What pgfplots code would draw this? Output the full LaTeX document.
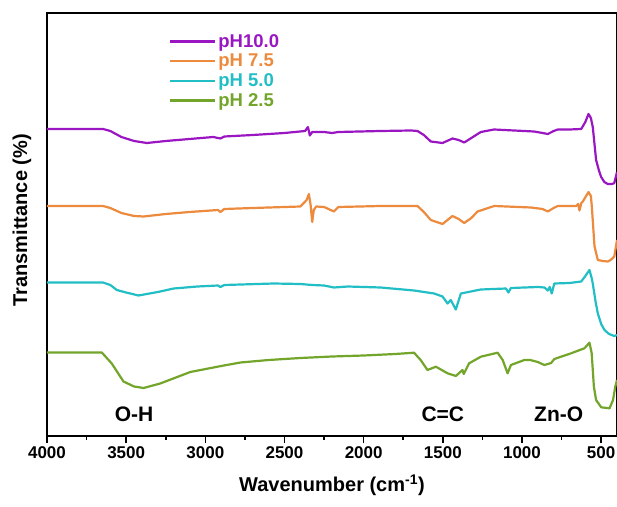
\documentclass[border=0pt]{standalone}
\usepackage{pgfplots}
\pgfplotsset{compat=1.18}
\usepackage{fontspec}
\setmainfont{Liberation Sans}
\usetikzlibrary{calc}
\definecolor{cpurple}{HTML}{9A16C2}
\definecolor{corange}{HTML}{EC8A3D}
\definecolor{ccyan}{HTML}{22BEC6}
\definecolor{cgreen}{HTML}{72A52A}

\begin{document}
\begin{tikzpicture}
\begin{axis}[
    name=ax,
    scale only axis,
    width=570pt, height=423pt,
    x dir=reverse,
    xmin=400, xmax=4000,
    ymin=0, ymax=423,
    xtick={4000,3500,...,500},
    minor x tick num=1,
    ytick=\empty,
    tick align=outside,
    xtick pos=bottom,
    major tick length=7pt,
    minor tick length=4pt,
    every tick/.style={black, line width=1.6pt},
    axis line style={line width=2pt},
    /pgf/number format/assume math mode=true,
    /pgf/number format/1000 sep={},
    xticklabel style={font=\fontsize{17}{19}\selectfont\bfseries},
    xlabel={Wavenumber (cm\textsuperscript{-1})},
    xlabel style={font=\fontsize{20}{22}\selectfont\bfseries, at={(axis description cs:0.5,-0.116)}, anchor=center},
    ylabel={Transmittance (\%)},
    ylabel style={font=\fontsize{20}{22}\selectfont\bfseries, at={(axis description cs:-0.044,0.51)}, anchor=center},
    every axis plot/.append style={line width=2.2pt, line join=round},
    legend style={draw=none, fill=none, at={(axis description cs:0.214,0.955)}, anchor=north west,
        font=\fontsize{18.5}{20}\selectfont\bfseries, row sep=1.3pt, inner sep=0pt},
    legend cell align=left,
    legend image code/.code={\draw[#1, line width=2.2pt] (0pt,0pt) -- (45pt,0pt);},
]
% pH 10.0
\addplot[cpurple] coordinates {
(4000,307) (3646,307) (3600,305) (3530,299) (3450,295) (3369,293) (3250,295) (3100,297)
(2950,299) (2905,297.5) (2880,299.5) (2700,301) (2500,303) (2370,305) (2352,309) (2340,300.5)
(2325,304) (2250,304) (2200,303) (2160,304) (1892,305) (1700,305.5) (1660,305) (1620,301)
(1576,294.5) (1502,293) (1439,297.5) (1400,296) (1365,293.5) (1310,299) (1260,304) (1177,306.5)
(1050,305.5) (924,304.5) (870,303) (837,302) (800,305) (774,306.5) (700,306.5) (626,307)
(600,314) (580,322) (565,318) (553,309) (532,276) (515,266) (500,259) (480,254)
(458,252) (430,252) (417,253) (400,264)
};
\addlegendentry{\textcolor{cpurple}{pH10.0}}
% pH 7.5
\addplot[corange] coordinates {
(4000,230) (3646,230) (3600,228) (3530,223) (3450,220) (3390,219.5) (3250,222) (3100,224)
(2920,226) (2905,224) (2880,227) (2700,228) (2400,229.5) (2360,236) (2346,242) (2335,231)
(2325,214) (2315,226) (2300,229.5) (2250,229) (2188,224.5) (2160,229) (1892,230) (1660,230)
(1620,224) (1576,216) (1502,212) (1439,220) (1400,217) (1365,213) (1320,218) (1281,224.5)
(1175,230) (943,228.5) (870,227) (837,224.5) (800,228) (774,230) (658,230) (645,232)
(637,225.5) (625,233) (616,234.5) (580,244) (565,240) (559,229.5) (542,189.5) (521,176)
(490,175) (458,174.5) (440,176) (417,179.5) (400,196)
};
\addlegendentry{\textcolor{corange}{pH 7.5}}
% pH 5.0
\addplot[ccyan] coordinates {
(4000,153.5) (3646,153.5) (3600,151) (3559,146) (3500,143.5) (3422,140.5) (3300,144) (3200,147.5)
(3050,149.5) (2920,150.5) (2905,149) (2880,151) (2568,152.5) (2400,152) (2325,151) (2250,150.5)
(2188,148.5) (2100,149.5) (1892,148.5) (1682,145.5) (1555,142.5) (1502,139.5) (1470,132.5) (1450,136)
(1418,126.5) (1386,142.5) (1260,146.5) (1101,147.5) (1086,143.5) (1070,148) (900,149) (858,148.5)
(837,145.5) (825,149) (812,142.5) (796,152.5) (700,153) (626,154.5) (600,160) (574,166)
(560,158) (553,152.5) (535,134) (521,122.5) (500,112) (479,106) (450,102) (417,100) (400,101)
};
\addlegendentry{\textcolor{ccyan}{pH 5.0}}
% pH 2.5
\addplot[cgreen] coordinates {
(4000,83.5) (3654,83.5) (3591,72.5) (3517,54.5) (3450,49.5) (3390,48) (3285,52.5) (3095,64)
(2900,70) (2778,73.5) (2600,76) (2400,78) (2200,79.5) (2000,80.5) (1800,82) (1682,83.3)
(1640,76) (1597,66) (1544,69.3) (1470,62.7) (1418,60) (1390,64) (1376,66) (1368,62)
(1334,72.7) (1260,79.3) (1154,83.3) (1122,76) (1091,62.7) (1070,71) (985,76) (949,76)
(900,74) (859,71) (816,73) (796,77) (690,82.7) (606,87.7) (574,93.3) (560,83)
(546,49.3) (532,36) (500,28.7) (447,27.7) (425,36) (411,49.3) (400,56)
};
\addlegendentry{\textcolor{cgreen}{pH 2.5}}
\node[font=\fontsize{21}{23}\selectfont\bfseries] at (axis cs:3450,22) {O-H};
\node[font=\fontsize{21}{23}\selectfont\bfseries] at (axis cs:1500,22) {C=C};
\node[font=\fontsize{21}{23}\selectfont\bfseries] at (axis cs:768,22) {Zn-O};
\end{axis}
\draw[line width=2.4pt] (ax.north west) -- (ax.north east);
\pgfresetboundingbox
\path ($(ax.south west)+(-47pt,-70pt)$) rectangle ($(ax.north east)+(0pt,13pt)$);
\end{tikzpicture}
\end{document}
